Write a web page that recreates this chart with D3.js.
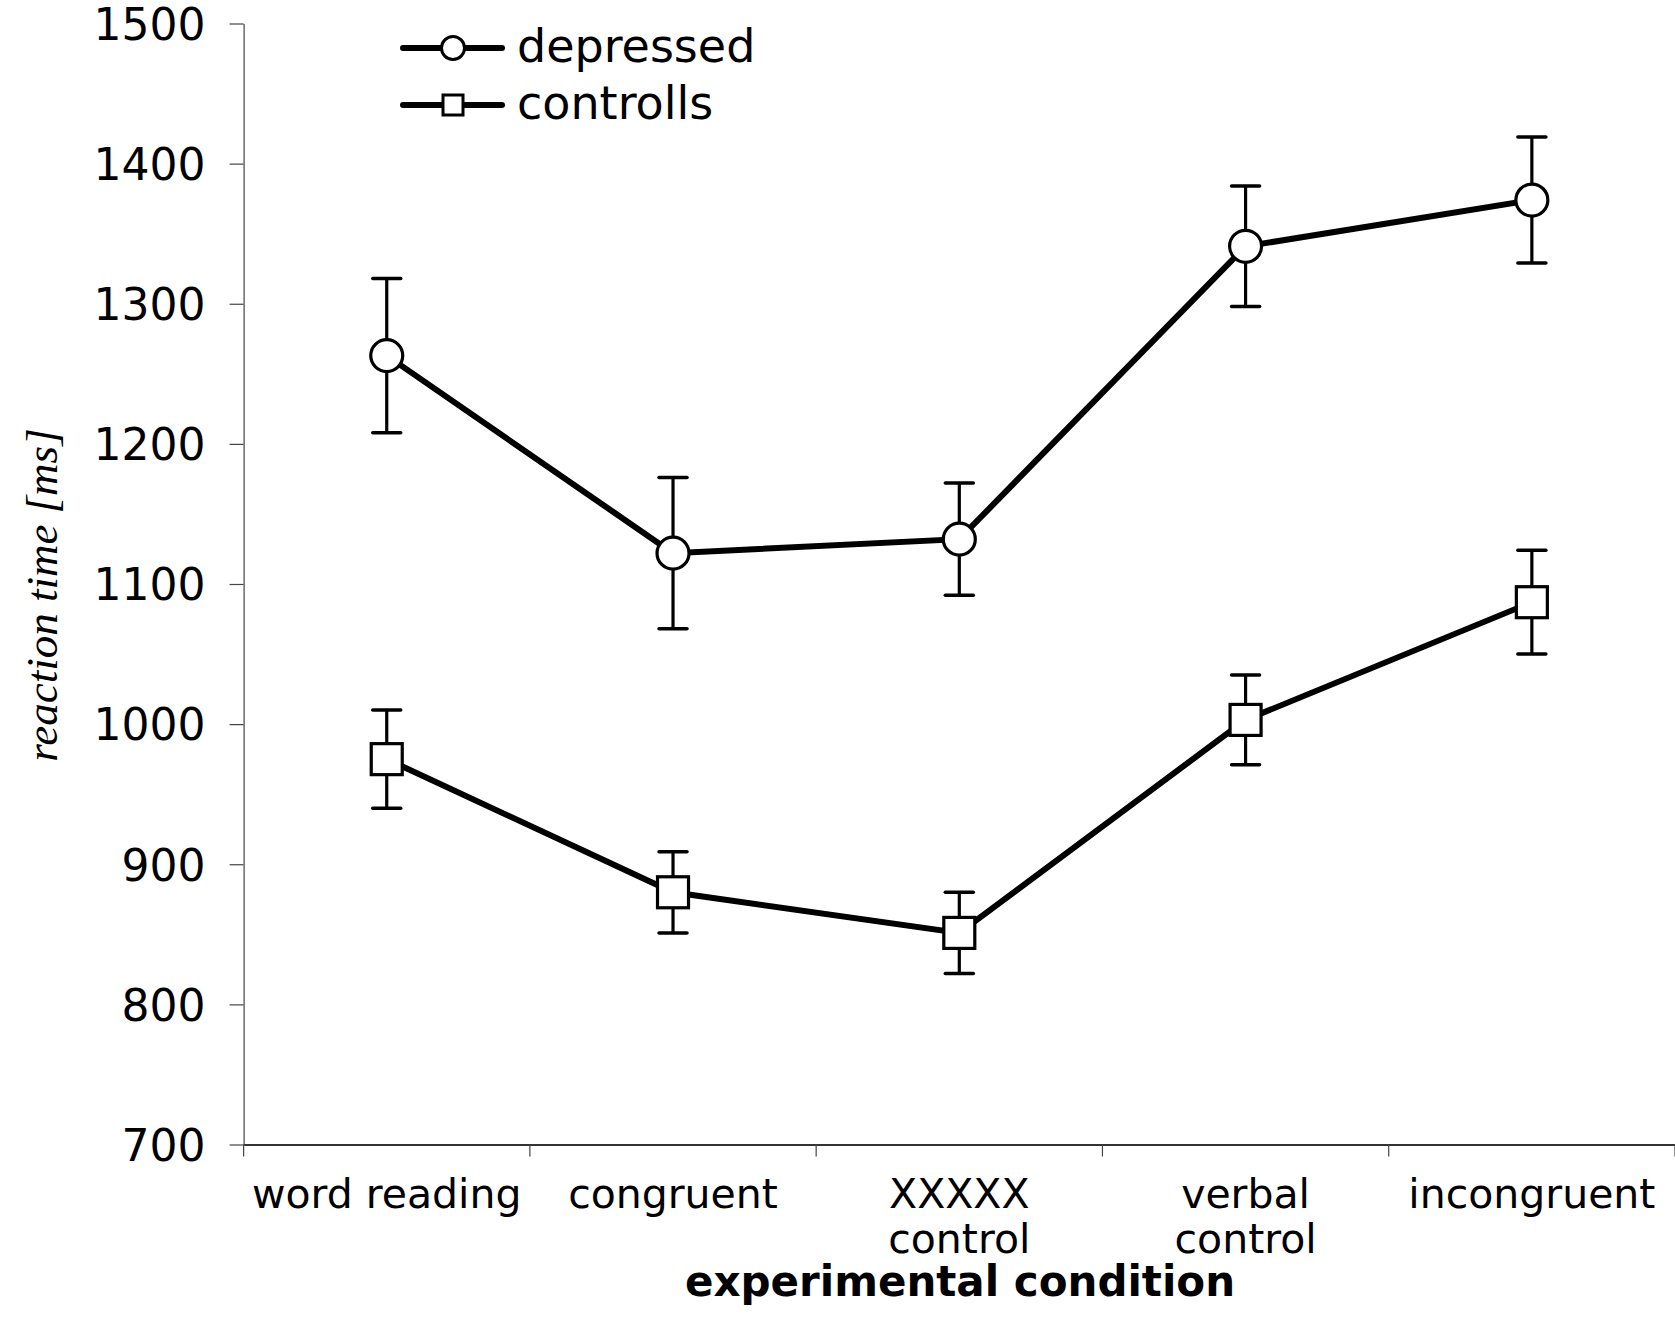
<!DOCTYPE html>
<html><head><meta charset="utf-8">
<script src="https://cdn.jsdelivr.net/npm/d3@7"></script>
<style>html,body{margin:0;padding:0;background:#fff;}</style>
</head><body>
<svg id="c" width="1675" height="1329"></svg>
<script>
const categories = ["word reading","congruent","XXXXX\ncontrol","verbal\ncontrol","incongruent"];
const depressedMean = [1263, 1122, 1132, 1341, 1374];
const depressedErr  = [55, 54, 40, 43, 45];
const controlsMean  = [975, 880, 851, 1003, 1087];
const controlsErr   = [35, 29, 29, 32, 37];
const yTicks = [700,800,900,1000,1100,1200,1300,1400,1500];
const seriesNames = ["depressed","controlls"];

const svg = d3.select("#c");
const x = d3.scaleBand().domain(categories).range([243.6, 1675]).padding(0);
const y = d3.scaleLinear().domain([700,1500]).range([1144.5, 23.5]);

// Y axis
const yAx = svg.append("g").attr("transform","translate(243.6,0)")
  .call(d3.axisLeft(y).tickValues(yTicks).tickFormat(d3.format("d")).tickSize(14).tickSizeOuter(0).tickPadding(24));
yAx.select(".domain").attr("stroke","#444").attr("stroke-width",1.2);
yAx.selectAll(".tick line").attr("stroke","#444").attr("stroke-width",1.2);
yAx.selectAll(".tick text").attr("font-family","DejaVu Sans").attr("font-size",44).attr("fill","#000").attr("dy","0.36em");

// X axis
const xAx = svg.append("g").attr("transform",`translate(0,${y(700)})`)
  .call(d3.axisBottom(x).tickSize(0).tickSizeOuter(0).tickFormat(""));
xAx.select(".domain").attr("stroke","#333").attr("stroke-width",2);
const bounds = categories.map(c => x(c)).concat([x.range()[1]]);
svg.append("g").selectAll("line").data(bounds).join("line")
  .attr("x1",d=>d).attr("x2",d=>d).attr("y1",y(700)).attr("y2",y(700)+12)
  .attr("stroke","#444").attr("stroke-width",1.2);
// category labels
const lab = svg.append("g").selectAll("text").data(categories).join("text")
  .attr("x", d => x(d)+x.bandwidth()/2).attr("y", 1208)
  .attr("text-anchor","middle").attr("font-family","DejaVu Sans").attr("font-size",41);
lab.each(function(d){
  const parts = d.split("\n");
  d3.select(this).selectAll("tspan").data(parts).join("tspan")
    .attr("x", x(d)+x.bandwidth()/2).attr("dy",(p,i)=> i===0?0:45).text(p=>p);
});

// titles
svg.append("text").attr("x",960).attr("y",1296).attr("text-anchor","middle")
  .attr("font-family","DejaVu Sans").attr("font-weight","bold").attr("font-size",42)
  .text("experimental condition");
svg.append("text").attr("transform","translate(57,595) rotate(-90)").attr("text-anchor","middle")
  .attr("font-family","Liberation Serif").attr("font-style","italic").attr("font-size",45)
  .text("reaction time [ms]");

const cx = d => x(d)+x.bandwidth()/2;
function drawSeries(means, errs, shape){
  const data = categories.map((c,i)=>({c, m:means[i], e:errs[i]}));
  const g = svg.append("g");
  g.selectAll("line.eb").data(data).join("line").attr("class","eb")
    .attr("x1",d=>cx(d.c)).attr("x2",d=>cx(d.c)).attr("y1",d=>y(d.m+d.e)).attr("y2",d=>y(d.m-d.e))
    .attr("stroke","#000").attr("stroke-width",3.2);
  ["t","b"].forEach(s=>{
    g.selectAll("line.cap"+s).data(data).join("line").attr("class","cap"+s)
      .attr("x1",d=>cx(d.c)-14).attr("x2",d=>cx(d.c)+14)
      .attr("y1",d=>y(s==="t"?d.m+d.e:d.m-d.e)).attr("y2",d=>y(s==="t"?d.m+d.e:d.m-d.e))
      .attr("stroke","#000").attr("stroke-width",3.5).attr("stroke-linecap","round");
  });
  g.append("path").datum(data)
    .attr("d", d3.line().x(d=>cx(d.c)).y(d=>y(d.m)))
    .attr("fill","none").attr("stroke","#000").attr("stroke-width",6);
  if(shape==="circle"){
    g.selectAll("circle").data(data).join("circle").attr("cx",d=>cx(d.c)).attr("cy",d=>y(d.m)).attr("r",16)
      .attr("fill","#fff").attr("stroke","#000").attr("stroke-width",3.2);
  } else {
    g.selectAll("rect").data(data).join("rect").attr("x",d=>cx(d.c)-15.5).attr("y",d=>y(d.m)-15.5)
      .attr("width",31).attr("height",31).attr("fill","#fff").attr("stroke","#000").attr("stroke-width",3.2);
  }
}
drawSeries(depressedMean, depressedErr, "circle");
drawSeries(controlsMean, controlsErr, "square");

// legend
const leg = svg.append("g");
const legY = [48, 105];
seriesNames.forEach((n,i)=>{
  leg.append("line").attr("x1",403).attr("x2",502).attr("y1",legY[i]).attr("y2",legY[i])
    .attr("stroke","#000").attr("stroke-width",6).attr("stroke-linecap","round");
  if(i===0) leg.append("circle").attr("cx",453).attr("cy",legY[i]).attr("r",11.5)
    .attr("fill","#fff").attr("stroke","#000").attr("stroke-width",3);
  else leg.append("rect").attr("x",443).attr("y",legY[i]-10).attr("width",20).attr("height",20)
    .attr("fill","#fff").attr("stroke","#000").attr("stroke-width",3);
  leg.append("text").attr("x",517).attr("y",legY[i]+14).attr("font-family","DejaVu Sans")
    .attr("font-size",46).text(n);
});
</script>
</body></html>
